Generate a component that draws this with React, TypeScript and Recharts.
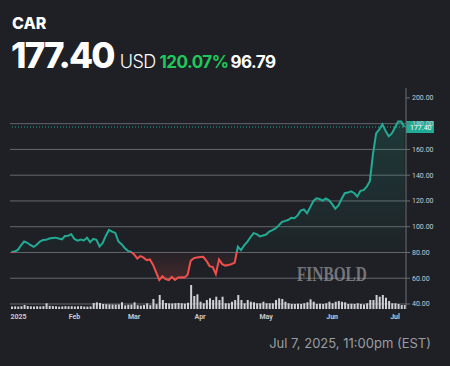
import React from "react";
import { ComposedChart, Area, Bar, XAxis, YAxis, CartesianGrid, ReferenceLine } from "recharts";

// trading days per month, 2025
const monthDays: [string, number[]][] = [
  ["01", [2, 3, 6, 7, 8, 10, 13, 14, 15, 16, 17, 21, 22, 23, 24, 27, 28, 29, 30, 31]],
  ["02", [3, 4, 5, 6, 7, 10, 11, 12, 13, 14, 18, 19, 20, 21, 24, 25, 26, 27, 28]],
  ["03", [3, 4, 5, 6, 7, 10, 11, 12, 13, 14, 17, 18, 19, 20, 21, 24, 25, 26, 27, 28, 31]],
  ["04", [1, 2, 3, 4, 7, 8, 9, 10, 11, 14, 15, 16, 17, 21, 22, 23, 24, 25, 28, 29, 30]],
  ["05", [1, 2, 5, 6, 7, 8, 9, 12, 13, 14, 15, 16, 19, 20, 21, 22, 23, 27, 28, 29, 30]],
  ["06", [2, 3, 4, 5, 6, 9, 10, 11, 12, 13, 16, 17, 18, 20, 23, 24, 25, 26, 27, 30]],
  ["07", [1, 2, 3, 7]],
];

const dates = monthDays.flatMap(([m, days]) =>
  days.map((d) => `2025-${m}-${String(d).padStart(2, "0")}`)
);

const closes = [
  80.61, 80.8, 82.0, 85.5, 88.5, 87.5, 85.8, 84.4, 86.0, 88.5,
  89.6, 89.8, 90.8, 91.2, 91.5, 90.8, 90.2, 92.8, 93.0, 94.2,
  90.5, 89.2, 90.0, 89.3, 91.4, 88.0, 90.6, 89.8, 84.6, 87.4,
  93.0, 97.5, 96.2, 95.2, 88.5, 86.4, 83.5, 81.2, 80.5, 78.5,
  75.3, 77.2, 76.0, 74.0, 74.6, 70.5, 64.5, 58.5, 61.6, 59.3,
  58.5, 61.0, 58.6, 60.6, 60.8, 60.5, 62.5, 73.5, 75.6, 76.1,
  76.4, 76.6, 73.5, 69.4, 68.6, 63.2, 74.5, 70.9, 69.8, 70.2,
  70.9, 72.2, 84.5, 81.8, 85.5, 88.2, 91.8, 95.0, 94.2, 92.5,
  93.2, 93.9, 96.3, 97.4, 98.6, 101.0, 103.6, 104.5, 105.2, 107.0,
  106.6, 108.8, 112.5, 113.4, 110.5, 115.0, 119.8, 122.0, 121.5, 120.3,
  122.0, 120.5, 117.5, 114.0, 116.5, 121.5, 126.0, 126.5, 127.4, 126.2,
  123.5, 127.9, 128.4, 131.0, 135.4, 156.5, 172.5, 175.5, 179.5, 174.4,
  170.2, 172.4, 177.0, 181.6, 181.6, 177.4,
];

// volume, millions of shares
const volumes = [
  0.5, 0.54, 0.5, 0.56, 0.8, 0.6, 0.54, 0.52, 0.56, 0.52,
  0.58, 1.14, 0.64, 0.6, 0.56, 0.48, 0.52, 0.58, 0.54, 0.56,
  0.52, 0.54, 0.58, 0.5, 0.48, 0.52, 1.2, 1.34, 1.2, 1.0,
  0.96, 0.92, 0.9, 0.88, 0.92, 1.34, 0.72, 0.84, 0.88, 1.34,
  0.76, 0.68, 0.8, 1.14, 0.76, 2.0, 0.94, 2.8, 1.8, 1.2,
  1.12, 1.1, 1.16, 1.2, 1.14, 1.08, 1.24, 4.8, 2.6, 2.94,
  1.46, 1.14, 1.8, 2.14, 1.8, 2.46, 1.8, 2.46, 1.14, 1.14,
  1.46, 1.8, 2.8, 1.8, 1.14, 1.8, 1.46, 1.34, 1.14, 1.14,
  1.46, 1.14, 1.14, 1.14, 1.8, 2.14, 2.0, 1.46, 1.14, 1.0,
  1.0, 1.04, 1.0, 1.14, 1.34, 1.94, 1.46, 1.0, 1.04, 1.0,
  1.14, 1.46, 1.14, 1.46, 1.6, 1.46, 1.34, 1.0, 1.04, 1.0,
  1.14, 1.0, 0.92, 1.14, 1.8, 1.8, 2.8, 2.46, 2.8, 2.26,
  1.6, 1.14, 1.14, 1.0, 0.8, 0.8,
];

const monthTicks = ["2025-01-02", "2025-02-03", "2025-03-03", "2025-04-01", "2025-05-01", "2025-06-02", "2025-07-01"];
const monthLabels = ["2025", "Feb", "Mar", "Apr", "May", "Jun", "Jul"];
const priceTicks = [40, 60, 80, 100, 120, 140, 160, 180, 200];
const gridValues = [40, 60, 80, 100, 120, 140, 160, 180];

const openPrice = 80.61;
const lastPrice = 177.4;

const TEAL = "#22ab94";
const RED = "#f0504c";
const BG = "#1e2025";

const data = dates.map((date, i) => ({ date, close: closes[i], volume: volumes[i] }));

const hi = Math.max(...closes);
const lo = Math.min(...closes);
const split = (hi - openPrice) / (hi - lo);

const MonthTick = (props: any) => {
  const { x, y, payload, index } = props;
  const i = monthTicks.indexOf(payload.value);
  return (
    <text
      x={index === 0 ? x - 1 : x}
      y={y + 8}
      textAnchor={index === 0 ? "start" : "middle"}
      fill="#c9cbd0"
      fontSize={7}
      fontWeight={700}
      fontFamily="Roboto"
    >
      {monthLabels[i]}
    </text>
  );
};

const PriceTag = (props: any) => {
  const vb = props.viewBox;
  const x = vb.x + vb.width;
  return (
    <g>
      <rect x={x} y={vb.y - 6} width={28} height={12} fill={TEAL} />
      <text x={x + 4} y={vb.y + 2.5} fill="#fff" fontSize={7} fontFamily="Roboto">
        {lastPrice.toFixed(2)}
      </text>
    </g>
  );
};

export default function App() {
  return (
    <div
      style={{
        position: "fixed",
        left: 0,
        top: 0,
        width: 450,
        height: 366,
        background: BG,
        fontFamily: "Inter, sans-serif",
        overflow: "hidden",
      }}
    >
      <div style={{ position: "absolute", left: 12, top: 13, color: "#fff", fontSize: 16, fontWeight: 800 }}>
        CAR
      </div>
      <div style={{ position: "absolute", left: 11, top: 34, display: "flex", alignItems: "baseline", whiteSpace: "nowrap" }}>
        <span style={{ color: "#fff", fontSize: 35, fontWeight: 800, letterSpacing: -1.8 }}>177.40</span>
        <span style={{ color: "#fff", fontSize: 18, fontWeight: 300, marginLeft: 6, letterSpacing: -0.6 }}>USD</span>
        <span style={{ color: "#1fc85a", fontSize: 17, fontWeight: 700, marginLeft: 4, letterSpacing: -0.5 }}>120.07%</span>
        <span style={{ color: "#fff", fontSize: 17, fontWeight: 700, marginLeft: 2, letterSpacing: -0.5 }}>96.79</span>
      </div>

      <div style={{ position: "absolute", left: 0, top: 0 }}>
        <ComposedChart width={450} height={330} data={data} margin={{ top: 88, right: 0, bottom: 0, left: 10 }}>
          <defs>
            <linearGradient id="lineSplit" x1="0" y1="0" x2="0" y2="1">
              <stop offset={split} stopColor={TEAL} />
              <stop offset={split} stopColor={RED} />
            </linearGradient>
            <linearGradient id="fillSplit" x1="0" y1="0" x2="0" y2="1">
              <stop offset={0} stopColor={TEAL} stopOpacity={0.3} />
              <stop offset={split} stopColor={TEAL} stopOpacity={0.04} />
              <stop offset={split} stopColor={RED} stopOpacity={0.05} />
              <stop offset={1} stopColor={RED} stopOpacity={0.3} />
            </linearGradient>
          </defs>
          <CartesianGrid
            yAxisId="price"
            vertical={false}
            horizontalValues={gridValues}
            stroke="#64676d"
          />
          <XAxis
            dataKey="date"
            ticks={monthTicks}
            interval={0}
            axisLine={false}
            tickLine={false}
            tickSize={0}
            height={21}
            tick={<MonthTick />}
          />
          <YAxis
            yAxisId="price"
            orientation="right"
            domain={[36.1, 207.7]}
            ticks={priceTicks}
            interval={0}
            allowDataOverflow
            width={44}
            tickSize={4}
            tickMargin={2}
            axisLine={{ stroke: "#6b6e74" }}
            tickLine={{ stroke: "#6b6e74" }}
            tickFormatter={(v) => Number(v).toFixed(2)}
            tick={{ fill: "#c9cbd0", fontSize: 7, fontFamily: "Roboto" }}
          />
          <YAxis yAxisId="vol" hide domain={[0, 44.2]} />
          <Bar yAxisId="vol" dataKey="volume" barSize={2} fill="#cfd1d6" isAnimationActive={false} />
          <Area
            yAxisId="price"
            type="linear"
            dataKey="close"
            baseValue={openPrice}
            stroke="url(#lineSplit)"
            strokeWidth={2}
            fill="url(#fillSplit)"
            dot={false}
            activeDot={false}
            isAnimationActive={false}
          />
          <ReferenceLine
            yAxisId="price"
            y={lastPrice}
            stroke={TEAL}
            strokeDasharray="1 2"
            label={<PriceTag />}
          />
        </ComposedChart>
      </div>

      <div
        style={{
          position: "absolute",
          left: 297,
          top: 262,
          fontFamily: "Liberation Serif",
          fontWeight: 700,
          fontSize: 21,
          color: "rgba(175,175,178,0.6)",
          transform: "scaleX(0.73)",
          transformOrigin: "left top",
        }}
      >
        FINBOLD
      </div>

      <div style={{ position: "absolute", right: 19, top: 335, color: "#9a9da3", fontSize: 13 }}>
        Jul 7, 2025, 11:00pm (EST)
      </div>
    </div>
  );
}
